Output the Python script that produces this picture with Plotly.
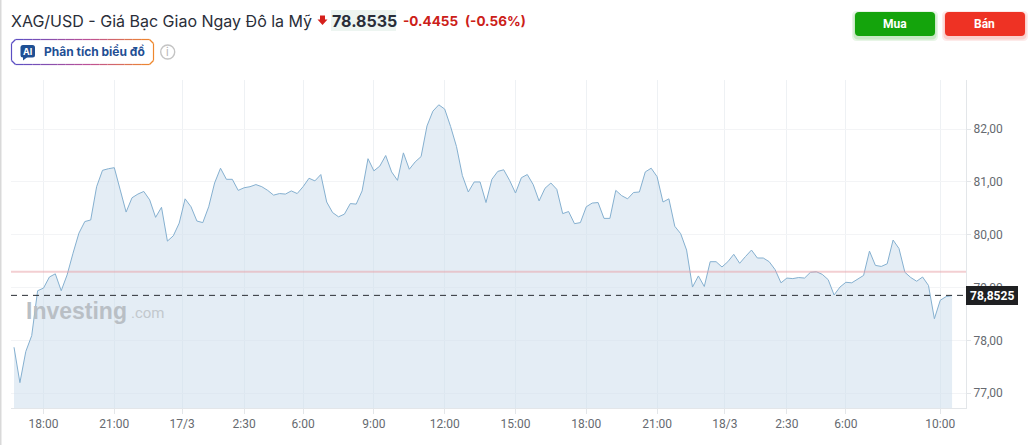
import plotly.graph_objects as go

prices = [
 77.87,77.20,77.79,78.09,78.94,78.99,79.20,79.26,78.94,79.24,79.65,80.03,80.25,80.28,80.91,81.22,81.25,81.27,80.85,80.43,
 80.70,80.77,80.82,80.66,80.33,80.52,79.88,79.98,80.22,80.68,80.53,80.26,80.23,80.53,80.98,81.26,81.05,81.05,80.84,80.89,
 80.91,80.95,80.91,80.84,80.75,80.78,80.77,80.83,80.78,80.91,81.07,81.02,81.14,80.62,80.42,80.34,80.39,80.59,80.58,80.83,
 81.44,81.21,81.30,81.50,81.19,81.03,81.55,81.24,81.38,81.48,82.06,82.34,82.46,82.38,82.05,81.67,81.12,80.81,81.00,81.00,
 80.61,81.05,81.20,81.23,81.03,80.79,81.08,81.14,80.95,80.64,80.88,80.98,80.86,80.40,80.44,80.21,80.23,80.53,80.60,80.61,
 80.31,80.31,80.84,80.74,80.68,80.80,80.81,81.19,81.26,81.10,80.62,80.68,80.16,80.02,79.71,79.01,79.22,79.02,79.49,79.49,
 79.39,79.49,79.63,79.46,79.59,79.71,79.56,79.56,79.49,79.34,79.09,79.18,79.17,79.19,79.18,79.29,79.30,79.25,79.15,78.86,
 79.01,79.10,79.09,79.16,79.23,79.69,79.42,79.40,79.45,79.90,79.74,79.29,79.19,79.12,79.20,79.04,78.41,78.76,78.83,78.85,
]
x_index = list(range(len(prices)))
time_tick_index = [5, 17, 28.5, 39, 49, 61, 73, 85, 97, 109, 120.5, 131, 141, 157]
time_tick_labels = ["18:00","21:00","17/3","2:30","6:00","9:00","12:00","15:00","18:00","21:00","18/3","2:30","6:00","10:00"]
price_ticks = [77, 78, 79, 80, 81, 82]
price_tick_labels = ["77,00","78,00","79,00","80,00","81,00","82,00"]
previous_close = 79.30
current_price = 78.8525
current_label = "78,8525"

W, H = 1033, 445
L, R, T, B = 11, 966, 80, 408
def px(v): return (v - L) / (R - L)
def py(v): return 1 - (v - T) / (B - T)

fig = go.Figure()
fig.add_trace(go.Scatter(x=x_index, y=prices, mode="lines", line=dict(color="#85b0d0", width=1),
                         fill="tozeroy", fillcolor="rgba(205,222,236,0.55)", hoverinfo="skip", showlegend=False))

shapes = [
    dict(type="line", xref="paper", yref="y", x0=0, x1=1, y0=previous_close, y1=previous_close,
         line=dict(color="rgba(232,160,165,0.5)", width=2)),
    dict(type="line", xref="paper", yref="y", x0=0, x1=1, y0=current_price, y1=current_price,
         line=dict(color="#2a2e33", width=1, dash="6px,5px")),
]
def rect(x0, y0, x1, y1, **kw):
    shapes.append(dict(type="rect", xref="paper", yref="paper", x0=px(x0), x1=px(x1), y0=py(y1), y1=py(y0), layer="above", **kw))
def rrect(x0, y0, x1, y1, r, fill, line=None, width=0):
    X0, X1, Y0, Y1 = px(x0), px(x1), py(y1), py(y0)
    rx, ry = r / (R - L), r / (B - T)
    path = (f"M{X0+rx},{Y1} L{X1-rx},{Y1} Q{X1},{Y1} {X1},{Y1-ry} L{X1},{Y0+ry} Q{X1},{Y0} {X1-rx},{Y0} "
            f"L{X0+rx},{Y0} Q{X0},{Y0} {X0},{Y0+ry} L{X0},{Y1-ry} Q{X0},{Y1} {X0+rx},{Y1} Z")
    shapes.append(dict(type="path", xref="paper", yref="paper", path=path, fillcolor=fill, layer="above",
                       line=dict(color=line or fill, width=width)))
def poly(points, fill):
    path = "M" + " L".join(f"{px(a)},{py(b)}" for a, b in points) + " Z"
    shapes.append(dict(type="path", xref="paper", yref="paper", path=path, fillcolor=fill, layer="above", line=dict(width=0)))
def seg(x0, y0, x1, y1, color, width=1.2):
    shapes.append(dict(type="line", xref="paper", yref="paper", x0=px(x0), x1=px(x1), y0=py(y0), y1=py(y1),
                       layer="above", line=dict(color=color, width=width)))

rect(0, 0, 1.5, H, fillcolor="#d9d9d9", line=dict(width=0))
rect(331, 10, 396, 31, fillcolor="#edf5f1", line=dict(width=0))
rect(966, 286, 1018, 305, fillcolor="#1f2022", line=dict(width=0))
for i, c in ((3, 0.10), (1.5, 0.14)):
    rrect(855 - i, 12 - i + 2, 935 + i, 36 + i + 2, 5, f"rgba(20,160,10,{c})")
    rrect(945 - i, 12 - i + 2, 1025 + i, 36 + i + 2, 5, f"rgba(235,50,35,{c})")
rrect(855, 12, 935, 36, 4, "#14a40c")
rrect(945, 12, 1025, 36, 4, "#ee3224")

# gradient outlined button
bx0, by0, bx1, by1, br = 11.5, 39.5, 153.5, 64.5, 4
stops = [(0.0, (91, 79, 196)), (0.55, (190, 80, 150)), (1.0, (238, 135, 45))]
def grad(t):
    for (a, ca), (b, cb) in zip(stops, stops[1:]):
        if t <= b:
            u = (t - a) / (b - a)
            return "rgb(" + ",".join(str(round(p + (q - p) * u)) for p, q in zip(ca, cb)) + ")"
    return "rgb(238,135,45)"
n = 16
for k in range(n):
    a = bx0 + br + (bx1 - bx0 - 2 * br) * k / n
    b = bx0 + br + (bx1 - bx0 - 2 * br) * (k + 1) / n
    c = grad((k + 0.5) / n)
    seg(a, by0, b, by0, c)
    seg(a, by1, b, by1, c)
seg(bx0, by0 + br, bx0, by1 - br, grad(0))
seg(bx1, by0 + br, bx1, by1 - br, grad(1))
for (ax, ay, cx, cy, col) in [(bx0, by0 + br, bx0 + br, by0, grad(0)), (bx0, by1 - br, bx0 + br, by1, grad(0)),
                              (bx1, by0 + br, bx1 - br, by0, grad(1)), (bx1, by1 - br, bx1 - br, by1, grad(1))]:
    seg(ax, ay, cx, cy, col)

rrect(20.5, 45, 35, 57.5, 2.5, "#1f4f94")
poly([(23, 57), (27.5, 57), (23, 60.5)], "#1f4f94")
poly([(320, 15.5), (325, 15.5), (325, 19.5), (327.5, 19.5), (322.5, 25), (317.5, 19.5), (320, 19.5)], "#d5201c")
shapes.append(dict(type="circle", xref="paper", yref="paper", x0=px(160.7), x1=px(174.7), y0=py(59), y1=py(45),
                   line=dict(color="#c4c4c4", width=1.4), layer="above"))

def text(x, y, s, size, color, font="Inter", anchor="left", bold=False):
    return dict(xref="paper", yref="paper", x=px(x), y=py(y), text=f"<b>{s}</b>" if bold else s, showarrow=False,
                xanchor=anchor, yanchor="middle", font=dict(family=font, size=size, color=color),
                borderpad=0, borderwidth=0)

annotations = [
    text(11, 20.5, "XAG/USD - Giá Bạc Giao Ngay Đô la Mỹ", 16, "#2a2e39"),
    text(332, 20.5, "78.8535", 16, "#2a2e39", bold=True),
    text(403, 20.5, "-0.4455", 13.5, "#cc2018", bold=True),
    text(465, 20.5, "(-0.56%)", 13.5, "#cc2018", bold=True),
    text(895, 24, "Mua", 12, "white", font="Roboto", anchor="center", bold=True),
    text(984, 24, "Bán", 12, "white", font="Roboto", anchor="center", bold=True),
    text(44, 51.5, "Phân tích biểu đồ", 12, "#1f4f94", bold=True),
    text(27.7, 51, "AI", 9, "white", font="Inter", anchor="center", bold=True),
    text(167.7, 52, "i", 11, "#b5b5b5", font="Inter", anchor="center"),
    text(26, 311, "Investing", 23, "#b9bfc5", font="Liberation Sans", bold=True),
    text(130.5, 313, ".com", 15, "#c2c8cd", font="Roboto"),
    text(992, 295.5, current_label, 12, "white", font="Roboto", anchor="center", bold=True),
]

fig.update_layout(
    width=W, height=H, autosize=False, paper_bgcolor="white", plot_bgcolor="white",
    margin=dict(l=L, r=W - R, t=T, b=H - B), showlegend=False, shapes=shapes, annotations=annotations,
    xaxis=dict(range=[-0.51, 161.36], tickmode="array", tickvals=time_tick_index, ticktext=time_tick_labels,
               showgrid=True, gridcolor="#eef1f4", gridwidth=1, zeroline=False, showline=True, linecolor="#e3e6e9",
               ticks="outside", ticklen=5, tickcolor="#e3e6e9", tickfont=dict(family="Roboto", size=12, color="#666a70")),
    yaxis=dict(range=[76.72, 82.93], side="right", tickmode="array", tickvals=price_ticks, ticktext=price_tick_labels,
               showgrid=True, gridcolor="#f3f4f6", gridwidth=1, zeroline=False, showline=True, linecolor="#e3e6e9",
               ticks="outside", ticklen=4, tickcolor="#e3e6e9", tickfont=dict(family="Roboto", size=12, color="#666a70")),
)
fig.write_html("out.html", config=dict(displayModeBar=False),
               post_script="document.body.style.margin='0';document.body.style.overflow='hidden';window.dispatchEvent(new Event('resize'));")
